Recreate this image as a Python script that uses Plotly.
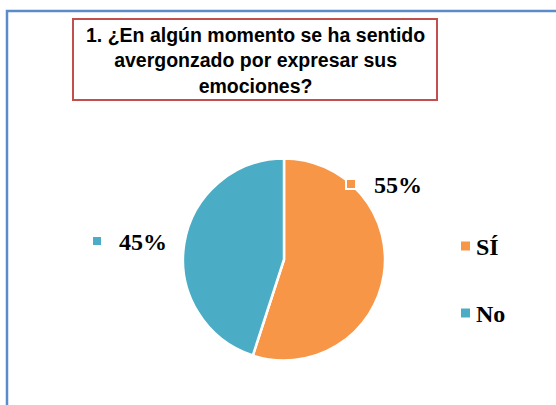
import plotly.graph_objects as go

labels = ["SÍ", "No"]
values = [55, 45]
colors = ["#F79646", "#4BACC6"]
title = "1. ¿En algún momento se ha sentido<br>avergonzado por expresar sus<br>emociones?"

W, H = 556, 405
serif = "Liberation Serif"


def px(x):
    return x / W


def py(y):
    return 1 - y / H


fig = go.Figure(go.Pie(
    labels=labels,
    values=values,
    marker=dict(colors=colors, line=dict(color="white", width=2.5)),
    sort=False,
    direction="clockwise",
    rotation=0,
    textinfo="none",
    hoverinfo="label+percent",
    domain=dict(x=[px(183), px(385)], y=[py(361), py(158)]),
    showlegend=False,
))

total = sum(values)
pcts = [f"{round(v / total * 100)}%" for v in values]

shapes = [
    # outer chart frame
    dict(type="rect", xref="paper", yref="paper", x0=px(7), x1=1.1, y0=-0.1, y1=py(11),
         line=dict(color="#5B8BCB", width=2.5)),
    # title box
    dict(type="rect", xref="paper", yref="paper", x0=px(73), x1=px(437), y0=py(100), y1=py(19),
         line=dict(color="#C0504D", width=2), fillcolor="white"),
]
annotations = [
    dict(text=f"<b>{title}</b>", x=px(255), y=py(60), xref="paper", yref="paper",
         xanchor="center", yanchor="middle",
         showarrow=False, font=dict(family="Liberation Sans", size=19.5, color="black"),
         align="center"),
]

# data labels (square key + percentage)
label_pos = [(351, 184, 372), (97, 241, 117)]
for (sx, sy, tx), pct, c in zip(label_pos, pcts, colors):
    shapes.append(dict(type="rect", xref="paper", yref="paper",
                       x0=px(sx - 5), x1=px(sx + 5), y0=py(sy + 5), y1=py(sy - 5),
                       fillcolor=c, line=dict(color="white", width=2)))
    annotations.append(dict(text=f"<b>{pct}</b>", x=px(tx), y=py(sy + 1), xref="paper", yref="paper",
                            xanchor="left", yanchor="middle", showarrow=False,
                            font=dict(family=serif, size=24, color="black")))

# legend
legend_y = [246, 313]
for lab, c, ly in zip(labels, colors, legend_y):
    shapes.append(dict(type="rect", xref="paper", yref="paper",
                       x0=px(461), x1=px(470), y0=py(ly + 4.5), y1=py(ly - 4.5),
                       fillcolor=c, line=dict(width=0)))
    annotations.append(dict(text=f"<b>{lab}</b>", x=px(474), y=py(ly + 1), xref="paper", yref="paper",
                            xanchor="left", yanchor="middle", showarrow=False,
                            font=dict(family=serif, size=24, color="black")))

fig.update_layout(
    width=W, height=H,
    margin=dict(l=0, r=0, t=0, b=0),
    paper_bgcolor="white",
    plot_bgcolor="white",
    shapes=shapes,
    annotations=annotations,
)

fig.write_html("out.html", config={"displayModeBar": False},
               post_script="document.body.style.margin='0';")
